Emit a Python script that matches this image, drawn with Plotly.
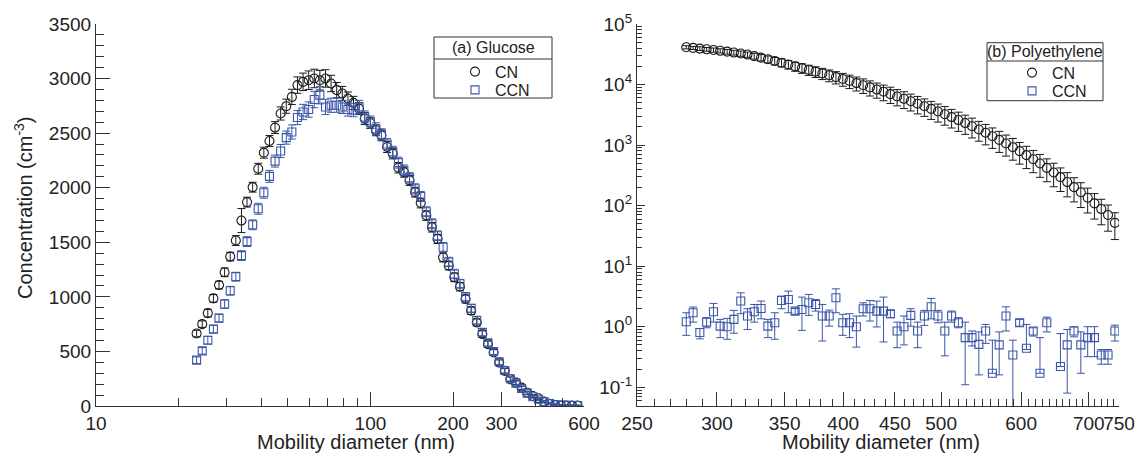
import plotly.graph_objects as go

# ---------------- (a) Glucose ----------------
glu_d = [23.26, 24.38, 25.55, 26.78, 28.07, 29.42, 30.84, 32.32, 33.88, 35.51,
         37.22, 39.01, 40.89, 42.86, 44.92, 47.08, 49.35, 51.72, 54.21, 56.82,
         59.56, 62.43, 65.43, 68.58, 71.88, 75.34, 78.97, 82.77, 86.75, 90.93,
         95.31, 99.90, 104.7, 109.7, 115.0, 120.6, 126.4, 132.4, 138.8, 145.5,
         152.5, 159.8, 167.5, 175.6, 184.0, 192.9, 202.2, 211.9, 222.1, 232.8,
         244.0, 255.7, 268.0, 281.0, 294.5, 308.7, 323.5, 339.1, 355.4, 372.5,
         390.4, 409.2, 428.9, 449.6, 471.2, 493.9, 517.7, 542.6, 568.7]
glu_cn = [664, 750, 851, 986, 1108, 1225, 1369, 1516, 1699, 1868,
          2005, 2174, 2321, 2428, 2551, 2680, 2747, 2832, 2940, 2970,
          2985, 3001, 2985, 3001, 2955, 2894, 2863, 2817, 2777, 2725,
          2634, 2593, 2526, 2480, 2373, 2312, 2183, 2143, 2067, 1959,
          1860, 1745, 1638, 1531, 1362, 1286, 1179, 1093, 980, 873,
          765, 659, 567, 490, 398, 322, 245, 214, 168, 122,
          92, 71, 40, 21, 9, 5, 4, 3, 3]
glu_cn_err = [30, 30, 35, 35, 35, 40, 40, 45, 110, 45,
              45, 50, 50, 50, 55, 60, 65, 70, 75, 80,
              85, 85, 90, 80, 75, 70, 65, 60, 60, 55,
              55, 50, 50, 50, 50, 48, 48, 46, 46, 45,
              45, 44, 44, 42, 42, 40, 40, 38, 36, 34,
              32, 30, 28, 26, 24, 22, 20, 18, 16, 14,
              12, 10, 8, 7, 6, 5, 4, 4, 3]
glu_ccn = [420, 505, 603, 704, 805, 934, 1056, 1185, 1378, 1506,
           1660, 1807, 1954, 2104, 2244, 2336, 2459, 2511, 2643, 2694,
           2716, 2808, 2848, 2740, 2756, 2756, 2740, 2716, 2710, 2740,
           2648, 2602, 2540, 2490, 2400, 2330, 2230, 2160, 2090, 1990,
           1920, 1780, 1670, 1560, 1454, 1320, 1210, 1120, 1000, 895,
           785, 675, 580, 500, 405, 325, 250, 210, 160, 118,
           85, 62, 38, 22, 12, 8, 6, 5, 5]
glu_ccn_err = [30, 30, 35, 35, 35, 40, 40, 40, 45, 45,
               45, 50, 50, 55, 55, 60, 60, 65, 65, 70,
               70, 75, 80, 70, 65, 65, 60, 60, 60, 60,
               55, 55, 55, 50, 50, 50, 50, 48, 48, 46,
               46, 45, 45, 44, 44, 42, 42, 40, 38, 36,
               34, 32, 30, 28, 26, 24, 22, 20, 18, 16,
               14, 12, 10, 8, 7, 6, 5, 5, 4]

# ---------------- (b) Polyethylene ----------------
pe_d = [279.7, 284.1, 288.5, 293.0, 297.6, 302.2, 307.0, 311.8, 316.7, 321.6,
        326.6, 331.7, 336.9, 342.2, 347.5, 353.0, 358.5, 364.1, 369.8, 375.6,
        381.4, 387.4, 393.4, 399.6, 405.8, 412.2, 418.6, 425.1, 431.8, 438.5,
        445.4, 452.3, 459.4, 466.6, 473.9, 481.3, 488.8, 496.4, 504.2, 512.1,
        520.1, 528.2, 536.5, 544.9, 553.4, 562.0, 570.8, 579.7, 588.8, 598.0,
        607.3, 616.8, 626.4, 636.2, 646.2, 656.3, 666.5, 676.9, 687.5, 698.3,
        709.2, 720.3, 731.5, 743.0]
pe_cn = [41300, 40270, 39260, 38190, 37150, 36060, 34910, 33730, 32510, 31260,
         29510, 27860, 26180, 24550, 22960, 21430, 19950, 18660, 17460, 16330,
         15280, 14260, 13270, 12330, 11430, 10570, 9750, 8970, 8260, 7590,
         6950, 6350, 5810, 5300, 4820, 4380, 3960, 3580, 3230, 2900,
         2590, 2310, 2050, 1810, 1600, 1400, 1220, 1060, 923, 794,
         682, 583, 497, 420, 353, 295, 245, 202, 166, 135,
         109, 87.7, 70.0, 51.9]
pe_cn_relerr = [0.06, 0.06, 0.07, 0.07, 0.08, 0.08, 0.09, 0.09, 0.10, 0.10,
                0.11, 0.12, 0.13, 0.14, 0.15, 0.16, 0.17, 0.18, 0.19, 0.20,
                0.21, 0.22, 0.23, 0.24, 0.25, 0.26, 0.27, 0.28, 0.28, 0.29,
                0.30, 0.30, 0.31, 0.31, 0.32, 0.32, 0.33, 0.33, 0.34, 0.34,
                0.35, 0.35, 0.36, 0.36, 0.37, 0.37, 0.38, 0.38, 0.39, 0.39,
                0.40, 0.40, 0.41, 0.41, 0.42, 0.42, 0.43, 0.43, 0.44, 0.44,
                0.45, 0.45, 0.46, 0.47]
pe_ccn = [1.21, 1.70, 0.80, 1.19, 1.77, 1.02, 1.00, 1.32, 2.65, 1.50,
          1.77, 2.00, 1.02, 1.16, 2.71, 2.82, 1.81, 1.92, 2.48, 2.33,
          1.50, 1.50, 3.00, 1.16, 1.16, 1.00, 1.98, 1.98, 1.81, 1.81,
          1.64, 0.85, 1.00, 1.54, 0.85, 1.50, 2.13, 1.50, 0.85, 1.50,
          1.16, 0.66, 0.66, 0.51, 0.85, 0.17, 0.50, 1.50, 0.34, 1.16,
          0.44, 0.85, 0.17, 1.16, None, 0.22, 0.50, 0.85, 0.50, 0.66,
          0.66, 0.34, 0.34, 0.85]
pe_ccn_hi = [1.70, 2.11, 0.93, 1.41, 2.42, 1.32, 1.37, 1.86, 3.63, 1.98,
             2.33, 2.65, 1.32, 1.70, 3.20, 3.87, 2.00, 3.08, 3.41, 2.82,
             2.33, 1.88, 4.22, 1.60, 1.64, 1.50, 2.48, 2.71, 2.65, 3.08,
             1.86, 1.19, 1.50, 1.98, 1.19, 1.86, 2.93, 1.86, 1.19, 1.81,
             1.41, 1.19, 0.85, 0.82, 1.09, 0.60, 0.82, 2.13, 0.60, 1.32,
             1.09, 0.96, 0.66, 1.44, None, 0.77, 0.90, 1.00, 0.82, 1.00,
             1.00, 0.42, 0.42, 1.06]
pe_ccn_lo = [0.72, 1.19, 0.63, 0.96, 1.19, 0.66, 0.62, 0.78, 1.64, 0.90,
             1.19, 1.35, 0.66, 0.62, 1.98, 1.70, 1.60, 0.87, 1.54, 1.81,
             0.58, 1.02, 1.70, 0.72, 0.66, 0.46, 1.50, 1.24, 0.99, 0.56,
             1.41, 0.45, 0.50, 1.02, 0.45, 1.05, 1.35, 1.16, 0.33, 1.19,
             0.96, 0.11, 0.48, 0.16, 0.53, 0.17, 0.16, 0.85, 0.0, 1.02,
             0.42, 0.70, 0.17, 0.82, None, 0.22, 0.08, 0.68, 0.17, 0.32,
             0.32, 0.24, 0.24, 0.58]

# ---------------- ticks / labels ----------------
glu_xticks = [10, 100, 200, 300, 600]
glu_xminor = [20, 30, 40, 50, 60, 70, 80, 90, 400, 500]
glu_yticks = [0, 500, 1000, 1500, 2000, 2500, 3000, 3500]
pe_xticks = [250, 300, 350, 400, 450, 500, 600, 700, 750]
pe_yticks = [0.1, 1, 10, 100, 1000, 10000, 100000]
pe_ytext = ["10<sup>-1</sup>", "10<sup>0</sup>", "10<sup>1</sup>", "10<sup>2</sup>",
            "10<sup>3</sup>", "10<sup>4</sup>", "10<sup>5</sup>"]
glu_title = "(a) Glucose"
pe_title = "(b) Polyethylene"

BLACK = "#1a1a1a"
BLUE = "#3a56a8"
AX = "#333333"
TXT = "#222222"
FONT = "Liberation Sans, Arial, Helvetica, sans-serif"

W, H = 1143, 455
L, R, T, B = 96, 24, 24, 49
pw, ph = W - L - R, H - T - B


def px(xp):
    return (xp - L) / pw


def py(yp):
    return 1 - (yp - T) / ph


fig = go.Figure()

fig.add_trace(go.Scatter(
    x=glu_d, y=glu_cn, mode="markers", name="CN", legend="legend", showlegend=True,
    marker=dict(symbol="circle-open", size=9, color=BLACK, line=dict(width=1.1)),
    error_y=dict(type="data", array=glu_cn_err, color=BLACK, thickness=1, width=4),
    xaxis="x", yaxis="y"))
fig.add_trace(go.Scatter(
    x=glu_d, y=glu_ccn, mode="markers", name="CCN", legend="legend2", showlegend=True,
    marker=dict(symbol="square-open", size=8, color=BLUE, line=dict(width=1.1)),
    error_y=dict(type="data", array=glu_ccn_err, color=BLUE, thickness=1, width=4),
    xaxis="x", yaxis="y"))

pe_cn_err = [v * r for v, r in zip(pe_cn, pe_cn_relerr)]
pe_ccn_ep = [(h - v) if v is not None else 0 for v, h in zip(pe_ccn, pe_ccn_hi)]
pe_ccn_em = [(v - l) if v is not None else 0 for v, l in zip(pe_ccn, pe_ccn_lo)]

fig.add_trace(go.Scatter(
    x=pe_d, y=pe_cn, mode="markers", name="CN", legend="legend3", showlegend=True,
    marker=dict(symbol="circle-open", size=9, color=BLACK, line=dict(width=1.1)),
    error_y=dict(type="data", array=pe_cn_err, color=BLACK, thickness=1, width=4),
    xaxis="x2", yaxis="y2"))
fig.add_trace(go.Scatter(
    x=pe_d, y=pe_ccn, mode="markers", name="CCN", legend="legend4", showlegend=True,
    marker=dict(symbol="square-open", size=8, color=BLUE, line=dict(width=1.1)),
    error_y=dict(type="data", symmetric=False, array=pe_ccn_ep, arrayminus=pe_ccn_em,
                 color=BLUE, thickness=1, width=4),
    xaxis="x2", yaxis="y2"))

common = dict(showgrid=False, zeroline=False, showline=True, linecolor=AX, linewidth=1.2,
              ticks="inside", tickcolor=AX, tickwidth=1, mirror=False, tickangle=0,
              tickfont=dict(family=FONT, size=19, color=TXT))

pe_minor_y = [m * 10 ** e for e in range(-2, 5) for m in range(2, 10) if 0.049 < m * 10 ** e < 1e5]
pe_minor_x = [v for v in range(260, 750, 10) if v not in pe_xticks]


def item_legend(sym_x, sym_y):
    return dict(x=px(sym_x - 18), y=py(sym_y), xanchor="left", yanchor="middle",
                borderwidth=0, bgcolor="rgba(0,0,0,0)",
                font=dict(family=FONT, size=16, color=TXT))


fig.update_layout(
    width=W, height=H, showlegend=True,
    margin=dict(l=L, r=R, t=T, b=B, autoexpand=False),
    paper_bgcolor="white", plot_bgcolor="white",
    font=dict(family=FONT, color=TXT),
    xaxis=dict(domain=[0, px(584)], type="log", range=[1, 2.77815],
               tickvals=glu_xticks, ticktext=[str(v) for v in glu_xticks], ticklen=14,
               minor=dict(tickvals=glu_xminor, ticks="inside", ticklen=8, tickcolor=AX),
               anchor="y", **common),
    yaxis=dict(domain=[0, 1], range=[0, 3500], tickvals=glu_yticks, ticklen=14,
               minor=dict(dtick=100, ticks="inside", ticklen=8, tickcolor=AX),
               anchor="x", **common),
    xaxis2=dict(domain=[px(637), 1], type="log", range=[2.39794, 2.87506],
                tickvals=pe_xticks, ticktext=[str(v) for v in pe_xticks], ticklen=14,
                minor=dict(tickvals=pe_minor_x, ticks="inside", ticklen=7, tickcolor=AX),
                anchor="y2", **common),
    yaxis2=dict(domain=[0, 1], type="log", range=[-1.31, 5],
                tickvals=pe_yticks, ticktext=pe_ytext, ticklen=8,
                minor=dict(tickvals=pe_minor_y, ticks="inside", ticklen=5, tickcolor=AX),
                anchor="x2", **common),
    legend=item_legend(473, 71.7),
    legend2=item_legend(473, 90),
    legend3=item_legend(1030, 72.7),
    legend4=item_legend(1030, 91),
    annotations=[
        dict(text="Concentration (cm<sup>-3</sup>)", xref="paper", yref="paper",
             x=px(23), y=py(208), textangle=-90, showarrow=False,
             font=dict(family=FONT, size=20, color=TXT), xanchor="center", yanchor="middle"),
        dict(text="Mobility diameter (nm)", xref="paper", yref="paper",
             x=px(356), y=py(442), showarrow=False,
             font=dict(family=FONT, size=20, color=TXT), xanchor="center", yanchor="middle"),
        dict(text="Mobility diameter (nm)", xref="paper", yref="paper",
             x=px(881), y=py(442), showarrow=False,
             font=dict(family=FONT, size=20, color=TXT), xanchor="center", yanchor="middle"),
        dict(text=glu_title, xref="paper", yref="paper", x=px(493), y=py(48), showarrow=False,
             font=dict(family=FONT, size=16, color=TXT), xanchor="center", yanchor="middle"),
        dict(text=pe_title, xref="paper", yref="paper", x=px(1045), y=py(52), showarrow=False,
             font=dict(family=FONT, size=16, color=TXT), xanchor="center", yanchor="middle"),
    ],
    shapes=[
        dict(type="rect", xref="paper", yref="paper", x0=px(434), x1=px(552), y0=py(98), y1=py(37),
             line=dict(color=AX, width=1), fillcolor="rgba(0,0,0,0)", layer="above"),
        dict(type="line", xref="paper", yref="paper", x0=px(434), x1=px(552), y0=py(59), y1=py(59),
             line=dict(color=AX, width=1)),
        dict(type="rect", xref="paper", yref="paper", x0=px(987), x1=px(1103), y0=py(100.7), y1=py(42.7),
             line=dict(color=AX, width=1), fillcolor="rgba(0,0,0,0)", layer="above"),
        dict(type="line", xref="paper", yref="paper", x0=px(987), x1=px(1103), y0=py(61), y1=py(61),
             line=dict(color=AX, width=1)),
    ],
)

fig.write_html("out.html", post_script="document.body.style.margin='0';",
               config={"displayModeBar": False})
